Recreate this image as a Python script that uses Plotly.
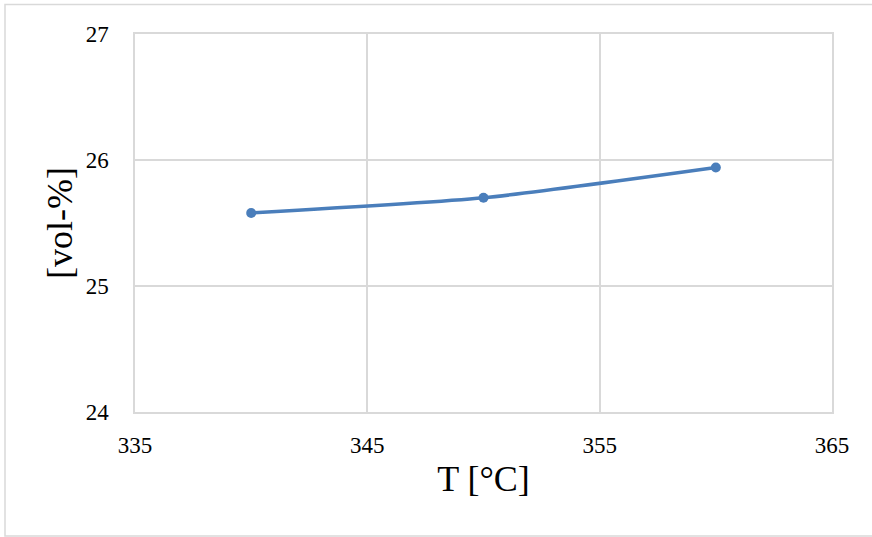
import plotly.graph_objects as go

# Temperature [°C] and measured concentration [vol-%]
temperature = [340, 350, 360]
concentration = [25.58, 25.70, 25.94]

x_ticks = [335, 345, 355, 365]
y_ticks = [24, 25, 26, 27]

FONT = "Liberation Serif, Times New Roman, serif"
GRID = "#d9d9d9"

fig = go.Figure()
fig.add_trace(go.Scatter(
    x=temperature,
    y=concentration,
    mode="lines+markers",
    line=dict(color="#4a7ebb", width=3.5, shape="spline", smoothing=0.6),
    marker=dict(color="#4a7ebb", size=10),
    showlegend=False,
))

fig.update_layout(
    width=872,
    height=537,
    margin=dict(l=135, r=40, t=34, b=125),
    paper_bgcolor="white",
    plot_bgcolor="white",
    font=dict(family=FONT, color="black"),
    xaxis=dict(
        range=[335, 365],
        tickvals=x_ticks,
        ticktext=[str(v) for v in x_ticks],
        showgrid=True, gridcolor=GRID, gridwidth=1.5,
        showline=True, linecolor=GRID, linewidth=1.5, mirror=True,
        zeroline=False,
        ticks="outside", ticklen=12, tickcolor="rgba(0,0,0,0)",
        tickfont=dict(family=FONT, size=23, color="black"),
        title=dict(text="T [°C]", font=dict(family=FONT, size=36, color="black"), standoff=8),
    ),
    yaxis=dict(
        range=[24, 27],
        tickvals=y_ticks,
        ticktext=[str(v) for v in y_ticks],
        showgrid=True, gridcolor=GRID, gridwidth=1.5,
        showline=True, linecolor=GRID, linewidth=1.5, mirror=True,
        zeroline=False,
        ticks="outside", ticklen=20, tickcolor="rgba(0,0,0,0)",
        tickfont=dict(family=FONT, size=23, color="black"),
        title=dict(text="[vol-%]", font=dict(family=FONT, size=36, color="black"), standoff=2),
    ),
    shapes=[
        # light outer frame around the chart area
        dict(type="rect", xref="paper", yref="paper",
             x0=(5 - 135) / 697, x1=1.2,
             y0=(412 - 536) / 378, y1=(412 - 4.5) / 378,
             line=dict(color=GRID, width=1.5), fillcolor="rgba(0,0,0,0)", layer="below"),
    ],
)

fig.write_html("out.html")
